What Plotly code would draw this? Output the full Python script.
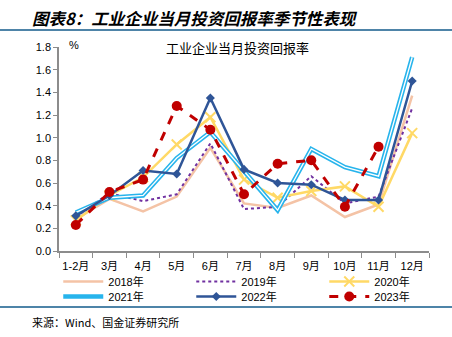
import plotly.graph_objects as go

months = ["1-2月", "3月", "4月", "5月", "6月", "7月", "8月", "9月", "10月", "11月", "12月"]
y2018 = [0.28, 0.46, 0.35, 0.48, 0.91, 0.42, 0.38, 0.49, 0.30, 0.41, 1.37]
y2019 = [0.30, 0.51, 0.44, 0.50, 0.95, 0.37, 0.39, 0.66, 0.42, 0.48, 1.26]
y2020 = [0.27, 0.49, 0.65, 0.94, 1.18, 0.63, 0.47, 0.53, 0.57, 0.39, 1.04]
y2021 = [0.34, 0.47, 0.49, 0.82, 1.05, 0.70, 0.36, 0.90, 0.74, 0.66, 1.71]
y2022 = [0.31, 0.49, 0.71, 0.68, 1.35, 0.72, 0.60, 0.585, 0.45, 0.45, 1.50]
y2023 = [0.23, 0.52, 0.63, 1.28, 1.07, 0.50, 0.77, 0.80, 0.39, 0.92]
yticks = [0.0, 0.2, 0.4, 0.6, 0.8, 1.0, 1.2, 1.4, 1.6, 1.8]

FONT = "Liberation Sans, Noto Sans CJK SC, sans-serif"
CJK = "Noto Sans CJK SC, sans-serif"

fig = go.Figure()
fig.add_trace(go.Scatter(x=months, y=y2018, name="2018年", mode="lines", legend="legend",
                         line=dict(color="#F4C3A6", width=2.5)))
fig.add_trace(go.Scatter(x=months, y=y2019, name="2019年", mode="lines", legend="legend",
                         line=dict(color="#7030A0", width=2, dash="dot")))
fig.add_trace(go.Scatter(x=months, y=y2020, name="2020年", mode="lines+markers", legend="legend",
                         line=dict(color="#FFD966", width=2.5),
                         marker=dict(symbol="x-thin", size=10, line=dict(color="#FFD966", width=2))))
fig.add_trace(go.Scatter(x=months, y=y2021, name="2021年", mode="lines", legend="legend2",
                         line=dict(color="#27B4EC", width=4.5)))
fig.add_trace(go.Scatter(x=months, y=y2021, name="2021年", mode="lines", showlegend=False,
                         hoverinfo="skip", line=dict(color="#FFFFFF", width=1.3)))
fig.add_trace(go.Scatter(x=months, y=y2022, name="2022年", mode="lines+markers", legend="legend2",
                         line=dict(color="#2F5597", width=2.5),
                         marker=dict(symbol="diamond", size=7, color="#2F5597")))
fig.add_trace(go.Scatter(x=months[:len(y2023)], y=y2023, name="2023年", mode="lines+markers",
                         legend="legend2",
                         line=dict(color="#C00000", width=3, dash="dash"),
                         marker=dict(symbol="circle", size=10, color="#C00000")))

leg_common = dict(orientation="h", xanchor="left", yanchor="top",
                  entrywidth=78, entrywidthmode="pixels", itemwidth=40,
                  font=dict(family=FONT, size=11), bgcolor="rgba(0,0,0,0)")

fig.update_layout(
    width=452, height=337,
    margin=dict(l=59, r=23, t=47, b=86, autoexpand=False),
    paper_bgcolor="white", plot_bgcolor="white",
    font=dict(family=FONT, size=11, color="#000000"),
    showlegend=True,
    legend=dict(x=-0.002, y=(251 - 267) / 204, **leg_common),
    legend2=dict(x=-0.002, y=(251 - 282) / 204, **leg_common),
    xaxis=dict(type="category", categoryorder="array", categoryarray=months,
               range=[-0.5, 10.5], showline=True, linecolor="#8C8C8C", linewidth=1.5,
               ticks="outside", tickson="boundaries", ticklen=5, tickcolor="#8C8C8C",
               tickangle=0, ticklabelstandoff=4,
               showgrid=False, zeroline=False, tickfont=dict(family=FONT, size=11)),
    yaxis=dict(range=[0, 1.8], tickvals=yticks, tickformat=".1f",
               showline=True, linecolor="#8C8C8C", linewidth=1.5,
               ticks="outside", ticklen=4, tickcolor="#8C8C8C",
               showgrid=False, zeroline=False, tickfont=dict(family=FONT, size=11)),
)

# Header / footer decoration
fig.add_shape(type="line", xref="paper", yref="paper", x0=-59/370, x1=(452-59)/370,
              y0=1 + 17/204, y1=1 + 17/204, line=dict(color="#4E84A8", width=2))
fig.add_shape(type="line", xref="paper", yref="paper", x0=-59/370, x1=(452-59)/370,
              y0=-56/204, y1=-56/204, line=dict(color="#4E84A8", width=2))

fig.add_annotation(text="<b><i>图表8：工业企业当月投资回报率季节性表现</i></b>",
                   xref="paper", yref="paper", x=-29/370, y=1 + 29/204,
                   xanchor="left", yanchor="middle", showarrow=False,
                   font=dict(family=CJK, size=16.5, color="#000000"))
fig.add_annotation(text="工业企业当月投资回报率", xref="paper", yref="paper",
                   x=(237 - 59)/370, y=1.0, xanchor="center", yanchor="middle", showarrow=False,
                   font=dict(family=CJK, size=13, color="#000000"))
fig.add_annotation(text="%", xref="paper", yref="paper", x=15/370, y=1 + 2/204,
                   xanchor="center", yanchor="middle", showarrow=False,
                   font=dict(family=FONT, size=11, color="#000000"))
fig.add_annotation(text="来源：Wind、国金证券研究所", xref="paper", yref="paper",
                   x=-29/370, y=-71/204, xanchor="left", yanchor="middle", showarrow=False,
                   font=dict(family=CJK, size=11, color="#000000"))

fig.write_html("out.html")
